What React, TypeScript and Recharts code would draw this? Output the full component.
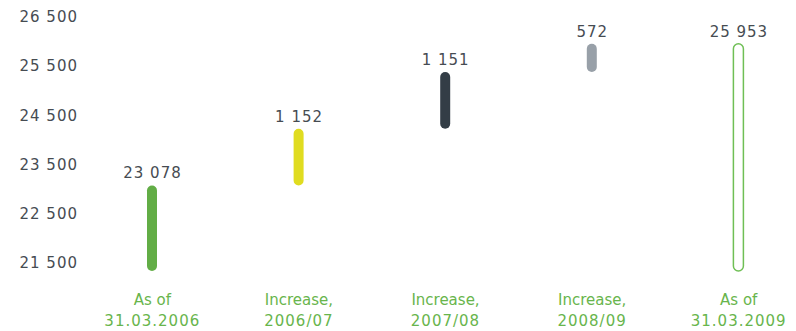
import { BarChart, Bar, XAxis, YAxis, Cell, LabelList } from 'recharts';

// Headcount bridge, 31.03.2006 -> 31.03.2009
const categoriesTop = ['As of', 'Increase,', 'Increase,', 'Increase,', 'As of'];
const categoriesBottom = ['31.03.2006', '2006/07', '2007/08', '2008/09', '31.03.2009'];
const changes = [23078, 1152, 1151, 572, 25953];
const isTotal = [true, false, false, false, true];
const barColors = ['#62ad46', '#e0dc20', '#333d46', '#98a0a8', '#ffffff'];
const yTicks = [21500, 22500, 23500, 24500, 25500, 26500];
const yDomain: [number, number] = [21340, 26600];

const FONT = '"DejaVu Sans", sans-serif';
const GREEN = '#68b54c';
const OUTLINE = '#6fbf55';
const GREY_TEXT = '#464c52';

const fmt = (v: number) => String(v).replace(/\B(?=(\d{3})+(?!\d))/g, ' ');

// waterfall ranges: totals start at the axis floor, increases stack on the running total
const buildData = () => {
  let running = 0;
  return changes.map((c, i) => {
    let range: [number, number];
    if (isTotal[i]) {
      range = [yDomain[0], c];
      running = c;
    } else {
      range = [running, running + c];
      running += c;
    }
    return { period: categoriesBottom[i], range, change: c };
  });
};

const data = buildData();

const XTick = (props: any) => {
  const { x, y, payload } = props;
  const i = payload.index;
  return (
    <text x={x} y={y} textAnchor="middle" fill={GREEN} fontSize={15} fontFamily={FONT}>
      <tspan x={x} y={y + 34}>{categoriesTop[i]}</tspan>
      <tspan x={x} y={y + 55} letterSpacing={1}>{categoriesBottom[i]}</tspan>
    </text>
  );
};

const ValueLabel = (props: any) => {
  const { x, y, width, value } = props;
  return (
    <text
      x={Number(x) + Number(width) / 2 + 0.5}
      y={Number(y) - 7}
      textAnchor="middle"
      fill={GREY_TEXT}
      fontSize={15}
      fontFamily={FONT}
      letterSpacing={1}
    >
      {fmt(Number(value))}
    </text>
  );
};

export default function App() {
  return (
    <div style={{ position: 'absolute', left: 0, top: 0, width: 796, height: 331, background: '#fff' }}>
      <BarChart width={796} height={331} data={data} margin={{ top: 12, right: 0, bottom: 0, left: 0 }}>
        <XAxis
          dataKey="period"
          axisLine={false}
          tickLine={false}
          tickSize={0}
          tickMargin={0}
          height={60}
          padding={{ left: 1, right: -16 }}
          interval={0}
          tick={<XTick />}
        />
        <YAxis
          type="number"
          domain={yDomain}
          ticks={yTicks}
          width={78}
          axisLine={false}
          tickLine={false}
          tickSize={0}
          tickMargin={0}
          tickFormatter={fmt}
          tick={{ fill: GREY_TEXT, fontSize: 15, fontFamily: FONT, letterSpacing: 1 }}
        />
        <Bar dataKey="range" barSize={10} radius={5} isAnimationActive={false}>
          {data.map((d, i) => (
            <Cell
              key={d.period}
              fill={barColors[i]}
              stroke={i === 4 ? OUTLINE : 'none'}
              strokeWidth={i === 4 ? 1.5 : 0}
            />
          ))}
          <LabelList dataKey="change" content={<ValueLabel />} />
        </Bar>
      </BarChart>
    </div>
  );
}
